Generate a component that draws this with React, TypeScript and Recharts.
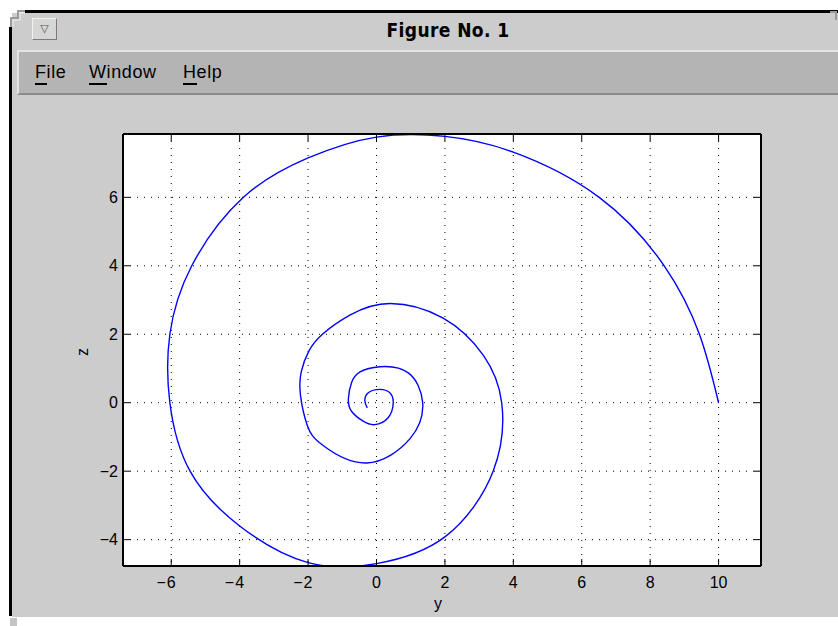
import { LineChart, Line, XAxis, YAxis, CartesianGrid, Label } from "recharts"

// spiral, in drawing order (outer end first)
const spiralY = [
  10, 9.44, 8.41, 6.51, 4.0, 2.0, 0.0, -2.0, -3.89, -5.4, -6.04, -6.04,
  -5.45, -4.0, -2.0, 0.0, 2.0, 3.41, 3.66,
  3.12, 1.95, 0.4, -0.78, -1.58, -1.97, -2.2, -2.22, -2.02, -1.56, -0.29, 0.98, 1.35,
  0.93, 0.1, -0.48, -0.72, -0.82, -0.73, -0.39, -0.05, 0.34, 0.49,
  0.39, 0.1, -0.24, -0.34, -0.27,
]
const spiralZ = [
  0, 2.0, 4.0, 6.0, 7.32, 7.78, 7.76, 7.15, 6.0, 4.0, 2.0, 0.0,
  -2.0, -3.6, -4.67, -4.7, -3.92, -2.0, 0.0,
  1.39, 2.47, 2.9, 2.56, 2.0, 1.52, 0.9, 0.2, -0.67, -1.25, -1.76, -1.05, 0.0,
  0.87, 1.05, 0.9, 0.61, 0.13, -0.25, -0.54, -0.64, -0.44, 0.0,
  0.29, 0.39, 0.29, 0.05, -0.15,
]

const yTicks = [-6, -4, -2, 0, 2, 4, 6, 8, 10]
const zTicks = [-4, -2, 0, 2, 4, 6]
const yDomain = [-7.41, 11.24]
const zDomain = [-4.77, 7.85]
const menuItems = ["File", "Window", "Help"]
const menuLeft = [35, 89, 183]

const data = spiralY.map((y, i) => ({ y, z: spiralZ[i] }))

const FONT = "'Liberation Sans', Arial, sans-serif"
const TICK_LEN = 7
const BOTTOM_GAP = 11
const LEFT_GAP = 5
const DIGIT_W = 8.9
const MINUS = "\u2212"

const BottomTick = (props: any) => {
  const { x, y, payload } = props
  const v = payload.value
  const s = String(Math.abs(v))
  const axisY = y - BOTTOM_GAP
  return (
    <g>
      <line x1={x} x2={x} y1={axisY} y2={axisY - TICK_LEN} stroke="#000" />
      <text x={x} y={y} dy="0.71em" textAnchor="middle" fill="#000" fontSize={16} fontFamily={FONT}>
        {s}
      </text>
      {v < 0 && (
        <text x={x - (s.length * DIGIT_W) / 2 - 1} y={y} dy="0.71em" textAnchor="end" fill="#000" fontSize={16} fontFamily={FONT}>
          {MINUS}
        </text>
      )}
    </g>
  )
}

const LeftTick = (props: any) => {
  const { x, y, payload } = props
  const v = payload.value
  const label = v < 0 ? MINUS + Math.abs(v) : String(v)
  const axisX = x + LEFT_GAP
  return (
    <g>
      <line x1={axisX} x2={axisX + TICK_LEN} y1={y} y2={y} stroke="#000" />
      <text x={x} y={y} dy="0.355em" textAnchor="end" fill="#000" fontSize={16} fontFamily={FONT}>
        {label}
      </text>
    </g>
  )
}

const TopTick = (props: any) => {
  const { x, y } = props
  return <line x1={x} x2={x} y1={y} y2={y + TICK_LEN} stroke="#000" />
}

const RightTick = (props: any) => {
  const { x, y } = props
  return <line x1={x - TICK_LEN} x2={x} y1={y} y2={y} stroke="#000" />
}

function WindowChrome() {
  return (
    <>
      <div style={{ position: "absolute", left: 12, top: 13, width: 826, height: 604, background: "#cccccc" }} />
      <svg width={838} height={626} style={{ position: "absolute", left: 0, top: 0 }}>
        <rect x={25} y={10} width={813} height={3} fill="#000" />
        <rect x={9} y={27} width={3} height={589} fill="#000" />
        <path d="M11 27 V18 H18 V11 H25" fill="none" stroke="#9a9a9a" strokeWidth={2} />
        <path d="M13 27 V20 H20 V13 H25" fill="none" stroke="#e2e2e2" strokeWidth={1.5} />
        <rect x={10} y={618} width={7} height={8} fill="#c4c4c4" />
        <path d="M830 12 H836 V20" fill="none" stroke="#9a9a9a" strokeWidth={2} />
      </svg>
      <div
        style={{
          position: "absolute", left: 32, top: 18, width: 23, height: 20,
          background: "#d6d6d6", borderTop: "1px solid #f2f2f2", borderLeft: "1px solid #f2f2f2",
          borderRight: "1px solid #7a7a7a", borderBottom: "1px solid #7a7a7a",
          fontSize: 11, color: "#555", textAlign: "center", lineHeight: "20px", fontFamily: "'DejaVu Sans', sans-serif",
        }}
      >
        {"\u25BD"}
      </div>
      <div
        style={{
          position: "absolute", left: 0, width: 896, top: 17, textAlign: "center",
          fontFamily: "'DejaVu Sans Condensed', 'DejaVu Sans', sans-serif", fontWeight: "bold",
          fontSize: 19, letterSpacing: 0.4, lineHeight: "26px", color: "#000",
        }}
      >
        Figure No. 1
      </div>
      <div
        style={{
          position: "absolute", left: 17, top: 50, width: 821, height: 41,
          background: "#b4b4b4", borderTop: "2px solid #e4e4e4", borderLeft: "2px solid #e4e4e4",
          borderBottom: "2px solid #8c8c8c",
        }}
      />
      {menuItems.map((item, i) => (
        <div
          key={item}
          style={{
            position: "absolute", left: menuLeft[i], top: 61, fontFamily: FONT,
            fontSize: 18, letterSpacing: 0.6, lineHeight: "22px", color: "#000",
          }}
        >
          <span style={{ borderBottom: "2px solid #000", paddingBottom: 1 }}>{item[0]}</span>
          {item.slice(1)}
        </div>
      ))}
    </>
  )
}

export default function App() {
  return (
    <div style={{ position: "absolute", left: 0, top: 0, width: 838, height: 626, background: "#fff", overflow: "hidden" }}>
      <WindowChrome />
      <div style={{ position: "absolute", left: 0, top: 0 }}>
        <LineChart width={838} height={626} data={data} margin={{ top: 134, right: 77, bottom: 30, left: 83 }}>
          <CartesianGrid fill="#fff" stroke="#000" strokeDasharray="1 6" />
          <XAxis
            dataKey="y"
            type="number"
            domain={yDomain}
            ticks={yTicks}
            allowDataOverflow
            height={30}
            tickSize={0}
            tickMargin={BOTTOM_GAP}
            tickLine={false}
            axisLine={{ stroke: "#000", strokeWidth: 2 }}
            tick={<BottomTick />}
          >
            <Label
              content={({ viewBox }: any) => (
                <text x={viewBox.x + viewBox.width / 2 - 4} y={609} textAnchor="middle" fill="#000" fontSize={16} fontFamily={FONT}>
                  y
                </text>
              )}
            />
          </XAxis>
          <XAxis
            xAxisId="top"
            dataKey="y"
            orientation="top"
            mirror
            type="number"
            domain={yDomain}
            ticks={yTicks}
            allowDataOverflow
            tickSize={0}
            tickMargin={0}
            tickLine={false}
            axisLine={{ stroke: "#000", strokeWidth: 2 }}
            tick={<TopTick />}
          />
          <YAxis
            dataKey="z"
            type="number"
            domain={zDomain}
            ticks={zTicks}
            allowDataOverflow
            width={40}
            tickSize={0}
            tickMargin={LEFT_GAP}
            tickLine={false}
            axisLine={{ stroke: "#000", strokeWidth: 2 }}
            tick={<LeftTick />}
          >
            <Label
              content={({ viewBox }: any) => {
                const cy = viewBox.y + viewBox.height / 2 + 2
                return (
                  <text x={88} y={cy} transform={`rotate(-90 88 ${cy})`} textAnchor="middle" fill="#000" fontSize={16} fontFamily={FONT}>
                    z
                  </text>
                )
              }}
            />
          </YAxis>
          <YAxis
            yAxisId="right"
            dataKey="z"
            orientation="right"
            mirror
            type="number"
            domain={zDomain}
            ticks={zTicks}
            allowDataOverflow
            tickSize={0}
            tickMargin={0}
            tickLine={false}
            axisLine={{ stroke: "#000", strokeWidth: 2 }}
            tick={<RightTick />}
          />
          <Line
            dataKey="z"
            type="natural"
            stroke="#0000ff"
            strokeWidth={1.4}
            dot={false}
            activeDot={false}
            isAnimationActive={false}
          />
        </LineChart>
      </div>
    </div>
  )
}
